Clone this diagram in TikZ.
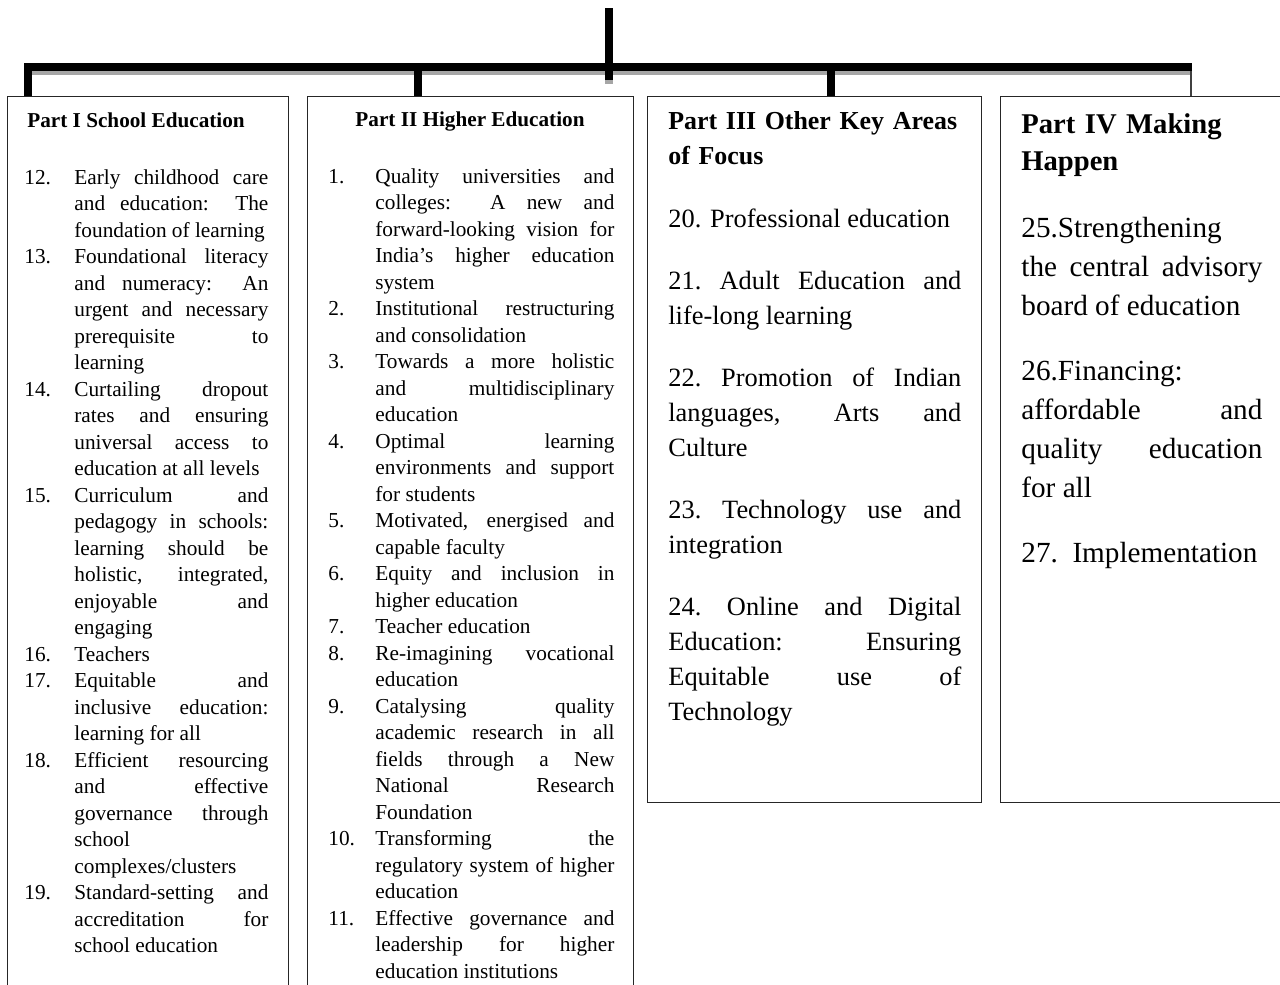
\documentclass[tikz,border=0pt]{standalone}
\usepackage{fontspec}
\setmainfont{Liberation Serif}
\newcommand{\jitem}[3]{\hangindent=#1\hangafter=1\noindent\makebox[#1][l]{#2}#3\par}
\newcommand{\jbr}{\linebreak}
\newcommand{\jset}{\tolerance=10000\hbadness=10000\hyphenpenalty=10000\exhyphenpenalty=10000\parindent=0pt\parskip=0pt}
\begin{document}
\begin{tikzpicture}[
  x=0.5pt, y=-0.5pt,
  frame/.style={draw=black!85, line width=0.7pt, inner sep=0pt, anchor=north west},
  bar/.style={line width=4pt, black, line join=miter},
  barshadow/.style={line width=2pt, black!35},
  thinlink/.style={line width=0.8pt, black!75},
  txt/.style={inner sep=0pt, anchor=base west, align=justify},
  head/.style={inner sep=0pt, anchor=base west, align=left},
  smallfont/.style={font=\fontsize{10.65pt}{13.25pt}\selectfont},
  smallhead/.style={font=\bfseries\fontsize{10.6pt}{13.25pt}\selectfont},
]
\useasboundingbox (0,0) rectangle (1280,985);
\clip (0,0) rectangle (1280,985);

% boxes
\node[frame, minimum width=140.5pt, minimum height=452pt] (b1) at (7,96) {};
\node[frame, minimum width=163pt, minimum height=452pt] (b2) at (307,96) {};
\node[frame, minimum width=167pt, minimum height=353pt] (b3) at (647,96) {};
\node[frame, minimum width=150pt, minimum height=353pt] (b4) at (1000,96) {};

% connector coordinates
\coordinate (top) at (609,8);
\coordinate (tb) at (609,80);
\coordinate (lend) at (28,67);
\coordinate (rend) at (1192,67);
\coordinate (j2) at (418,67);
\coordinate (j3) at (831,67);
\coordinate (j4) at (1191,71);
\coordinate (s1) at (24,73);
\coordinate (s2) at (1192,73);
\coordinate (ts1) at (609,71);
\coordinate (ts2) at (609,84);

% shadows
\draw[barshadow] (s1) -- (s2);
\draw[bar, black!35] (ts1) -- (ts2);
% connectors
\draw[bar] (top) -- (tb);
\draw[bar] (lend |- b1.north) -- (lend) -- (rend);
\draw[bar] (j2) -- (j2 |- b2.north);
\draw[bar] (j3) -- (j3 |- b3.north);
\draw[thinlink] (j4) -- (j4 |- b4.north);

% Part I
\node[inner sep=0pt, anchor=base west, smallhead] (h1) at (27,127) {Part I School Education};
\node[txt, text width=122pt, smallfont] (l1) at (24,184) {\jset
\jitem{25pt}{12.}{Early childhood care\jbr and education: The\jbr foundation of learning}
\jitem{25pt}{13.}{Foundational literacy\jbr and numeracy: An\jbr urgent and necessary\jbr prerequisite to\jbr learning}
\jitem{25pt}{14.}{Curtailing dropout\jbr rates and ensuring\jbr universal access to\jbr education at all levels}
\jitem{25pt}{15.}{Curriculum and\jbr pedagogy in schools:\jbr learning should be\jbr holistic, integrated,\jbr enjoyable and\jbr engaging}
\jitem{25pt}{16.}{Teachers}
\jitem{25pt}{17.}{Equitable and\jbr inclusive education:\jbr learning for all}
\jitem{25pt}{18.}{Efficient resourcing\jbr and effective\jbr governance through\jbr school\jbr complexes/clusters}
\jitem{25pt}{19.}{Standard-setting and\jbr accreditation for\jbr school education}};

% Part II
\node[inner sep=0pt, anchor=base, smallhead] (h2) at (470,126) {Part II Higher Education};
\node[txt, text width=143pt, smallfont] (l2) at (328,183) {\jset
\jitem{23.5pt}{1.}{Quality universities and\jbr colleges: A new and\jbr forward-looking vision for\jbr India’s higher education\jbr system}
\jitem{23.5pt}{2.}{Institutional restructuring\jbr and consolidation}
\jitem{23.5pt}{3.}{Towards a more holistic\jbr and multidisciplinary\jbr education}
\jitem{23.5pt}{4.}{Optimal learning\jbr environments and support\jbr for students}
\jitem{23.5pt}{5.}{Motivated, energised and\jbr capable faculty}
\jitem{23.5pt}{6.}{Equity and inclusion in\jbr higher education}
\jitem{23.5pt}{7.}{Teacher education}
\jitem{23.5pt}{8.}{Re-imagining vocational\jbr education}
\jitem{23.5pt}{9.}{Catalysing quality\jbr academic research in all\jbr fields through a New\jbr National Research\jbr Foundation}
\jitem{23.5pt}{10.}{Transforming the\jbr regulatory system of higher\jbr education}
\jitem{23.5pt}{11.}{Effective governance and\jbr leadership for higher\jbr education institutions}};

% Part III
\node[head, text width=160pt, font=\bfseries\fontsize{12.95pt}{17.5pt}\selectfont] (h3) at (668,129) {\jset Part III Other Key Areas\\of Focus};
\node[txt, text width=146.5pt, font=\fontsize{13.2pt}{17.5pt}\selectfont] (l3) at (668,227) {\jset\parskip=13.5pt
20. Professional education\par
21.~Adult Education and\jbr life-long learning\par
22.~Promotion of Indian\jbr languages, Arts and\jbr Culture\par
23.~Technology use and\jbr integration\par
24.~Online and Digital\jbr Education: Ensuring\jbr Equitable use of\jbr Technology\par};

% Part IV
\node[head, text width=130pt, font=\bfseries\fontsize{14.3pt}{18.5pt}\selectfont] (h4) at (1021,133) {\jset Part IV Making\\Happen};
\node[txt, text width=120.5pt, font=\fontsize{14.6pt}{19.5pt}\selectfont] (l4) at (1021,237) {\jset\parskip=13pt
25.Strengthening\jbr the central advisory\jbr board of education\par
26.Financing:\jbr affordable and\jbr quality education\jbr for all\par
27.~~Implementation\par};
\end{tikzpicture}
\end{document}
